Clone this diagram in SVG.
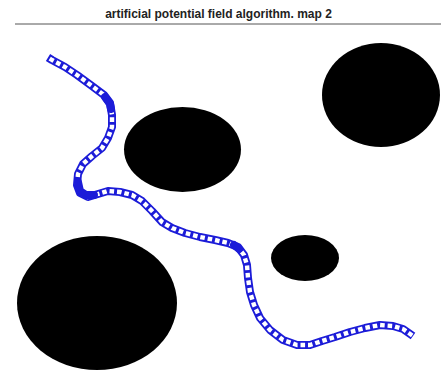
<svg xmlns="http://www.w3.org/2000/svg" width="441" height="383" viewBox="0 0 441 383">
<style>
.title{font-family:"Liberation Sans",Arial,sans-serif;font-size:12px;font-weight:bold;fill:#222}
.obs{fill:#000}
.trk{fill:none;stroke:#1c1cd8;stroke-width:8;stroke-linejoin:round;stroke-linecap:butt}
.hole{fill:none;stroke:#fff;stroke-width:4.4;stroke-dasharray:4.6 2.9;stroke-dashoffset:-2;stroke-linejoin:round}
.dense{fill:none;stroke:#1c1cd8;stroke-width:8;stroke-linecap:round}
</style>
<defs>
<path id="route" d="M48,57.5 L52,60 L65,67 L77,75 L92,86 L104,95 L110,103 L112,115 L112,127 L108,138 L102,148 L92,156 L83,164 L78,174 L77,185 L80,193 L88,197 L98,194 L108,191 L120,192 L132,195 L142,201 L152,211 L162,222 L172,228 L185,233 L200,237 L215,240 L228,243 L238,247 L244,255 L247,265 L248,278 L250,292 L254,305 L260,318 L270,330 L283,340 L297,345 L310,345 L322,341 L335,337 L350,332 L365,328 L380,325 L393,326 L403,329 L413,336"/>
</defs>
<rect width="441" height="383" fill="#fff"/>
<text class="title" x="218.5" y="17.5" text-anchor="middle">artificial potential field algorithm. map 2</text>
<line x1="15" y1="24" x2="441" y2="24" stroke="#555" stroke-width="1"/>
<g id="obstacles">
<ellipse id="obs1" class="obs" cx="97" cy="303" rx="80" ry="67"/>
<ellipse id="obs2" class="obs" cx="182.5" cy="149.5" rx="58.5" ry="42.5"/>
<ellipse id="obs3" class="obs" cx="381" cy="95" rx="59" ry="52"/>
<ellipse id="obs4" class="obs" cx="305" cy="258" rx="34" ry="23"/>
</g>
<g id="path">
<use href="#route" class="trk"/>
<use href="#route" class="hole"/>
<path class="dense" d="M105,97 L110,104 L111,109"/>
<path class="dense" d="M78,182 L80,191 L86,195 L94,195"/>
<path class="dense" d="M234,245 L239,249"/>
</g>
</svg>
